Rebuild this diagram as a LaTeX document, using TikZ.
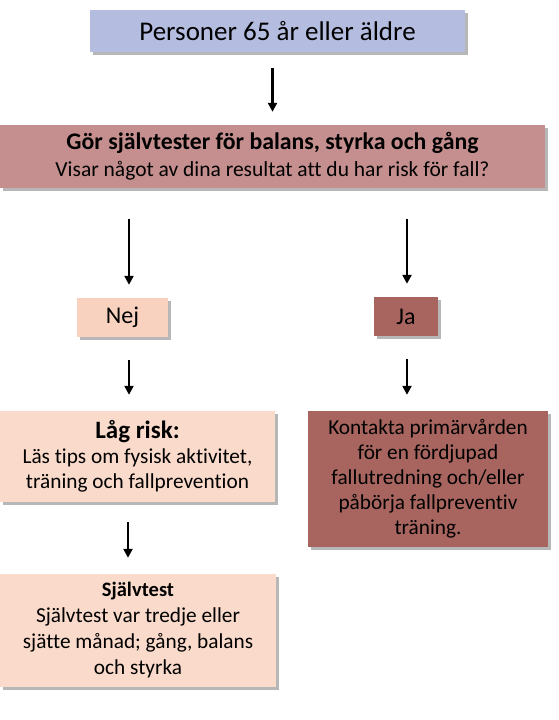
\documentclass[tikz,border=0pt]{standalone}
\usepackage{fontspec}
\setmainfont{Carlito}[Ligatures=NoCommon]
\usetikzlibrary{arrows.meta, positioning, shadows}
\definecolor{lavender}{RGB}{180,189,224}
\definecolor{dustrose}{RGB}{196,143,142}
\definecolor{peach}{RGB}{248,210,190}
\definecolor{peachlight}{RGB}{250,218,202}
\definecolor{brickrose}{RGB}{168,101,95}

\begin{document}
\begin{tikzpicture}[x=1pt, y=-1pt,
  flowbox/.style={rectangle, inner sep=0pt, align=center,
    drop shadow={shadow xshift=2.5pt, shadow yshift=-3pt, opacity=.4, fill=black!70}},
  flowarrow/.style={-{Triangle[length=9pt, width=9pt]}, line width=2.4pt, black}]
  \useasboundingbox (0,0) rectangle (558,720);
  % boxes
  \node[flowbox, fill=lavender, minimum width=375pt, minimum height=42pt,
        font=\fontsize{27}{30}\selectfont]
    (start) at (277.5,31) {Personer 65 år eller äldre};
  \node[flowbox, fill=dustrose, minimum width=545pt, minimum height=63pt,
        font=\fontsize{21.5}{27}\selectfont]
    (test) at (272.5,156.5) {{\bfseries\fontsize{23.8}{27}\selectfont Gör självtester för balans, styrka och gång}\\
      Visar något av dina resultat att du har risk för fall?};
  \node[flowbox, fill=peach, minimum width=91pt, minimum height=39pt,
        font=\fontsize{24}{28}\selectfont]
    (nej) at (122.5,317.5) {Nej};
  \node[flowbox, fill=brickrose, minimum width=64pt, minimum height=39pt,
        font=\fontsize{24}{28}\selectfont]
    (ja) at (406,316.5) {Ja};
  \node[flowbox, fill=peachlight, minimum width=275pt, minimum height=91pt,
        font=\fontsize{21.3}{25}\selectfont]
    (lag) at (137.5,456.5) {{\bfseries\fontsize{25}{27}\selectfont Låg risk:}\\
      Läs tips om fysisk aktivitet,\\ träning och fallprevention};
  \node[flowbox, fill=brickrose, minimum width=240pt, minimum height=136pt,
        font=\fontsize{21.3}{25}\selectfont]
    (kontakt) at (428,479) {Kontakta primärvården\\ för en fördjupad\\
      fallutredning och/eller\\ påbörja fallpreventiv\\ träning.};
  \node[flowbox, fill=peachlight, minimum width=276pt, minimum height=113pt,
        font=\fontsize{21.3}{26}\selectfont]
    (sjalv) at (138,630.5) {{\bfseries\fontsize{20.5}{26}\selectfont Självtest}\\
      Självtest var tredje eller\\ sjätte månad; gång, balans\\ och styrka};
  % arrows between the boxes
  \draw[flowarrow, shorten <=16pt, shorten >=13pt]
    (test.north |- start.south) -- (test.north);
  \draw[flowarrow, shorten <=31pt, shorten >=13pt]
    ([xshift=6.5pt]nej.north |- test.south) -- ([xshift=6.5pt]nej.north);
  \draw[flowarrow, shorten <=31pt, shorten >=13pt]
    ([xshift=1pt]ja.north |- test.south) -- ([xshift=1pt]ja.north);
  \draw[flowarrow, shorten <=23pt, shorten >=16pt]
    ([xshift=6.5pt]nej.south) -- ([xshift=6.5pt]nej.south |- lag.north);
  \draw[flowarrow, shorten <=23pt, shorten >=16pt]
    ([xshift=1pt]ja.south) -- ([xshift=1pt]ja.south |- kontakt.north);
  \draw[flowarrow, shorten <=20pt, shorten >=16pt]
    ([xshift=-9.5pt]lag.south) -- ([xshift=-9.5pt]lag.south |- sjalv.north);
\end{tikzpicture}
\end{document}
